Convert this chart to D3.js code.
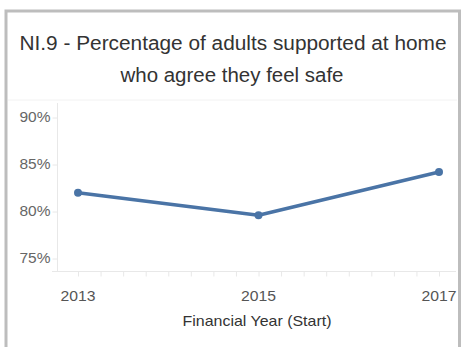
<!DOCTYPE html>
<html>
<head>
<meta charset="utf-8">
<script src="https://cdn.jsdelivr.net/npm/d3@7"></script>
<style>
  body { margin: 0; background: #fff; }
  svg { display: block; font-family: "Liberation Sans Narrow", "Liberation Sans", "DejaVu Sans Condensed", sans-serif; }
</style>
</head>
<body>
<div id="chart"></div>
<script>
  // chart data
  var years = [2013, 2015, 2017];
  var values = [82, 79.6, 84.2];
  var yTicks = [75, 80, 85, 90];
  var titleLines = ['NI.9 - Percentage of adults supported at home', 'who agree they feel safe'];
  var xTitle = 'Financial Year (Start)';

  var width = 461, height = 347;
  var svg = d3.select('#chart').append('svg')
    .attr('width', width)
    .attr('height', height);

  // outer frame
  svg.append('path')
    .attr('d', 'M6,' + height + 'V11H459.5V' + height)
    .attr('fill', 'none')
    .attr('stroke', '#bdbdbd')
    .attr('stroke-width', 3);

  // title
  svg.append('text')
    .attr('x', 233).attr('y', 50)
    .attr('text-anchor', 'middle')
    .attr('textLength', 427).attr('lengthAdjust', 'spacingAndGlyphs')
    .style('font-size', '20px').style('fill', '#333')
    .text(titleLines[0]);
  svg.append('text')
    .attr('x', 232).attr('y', 82)
    .attr('text-anchor', 'middle')
    .attr('textLength', 223).attr('lengthAdjust', 'spacingAndGlyphs')
    .style('font-size', '20px').style('fill', '#333')
    .text(titleLines[1]);

  // separator under title
  svg.append('line')
    .attr('x1', 8).attr('x2', 457).attr('y1', 100).attr('y2', 100)
    .attr('stroke', '#f2f2f2');

  var x = d3.scaleLinear().domain([2013, 2017]).range([78, 439]);
  var y = d3.scaleLinear().domain([75, 90]).range([258.5, 117.5]);

  // y axis
  svg.append('line')
    .attr('x1', 57.5).attr('x2', 57.5).attr('y1', 103).attr('y2', 272)
    .attr('stroke', '#e8e8e8');
  var yAxis = svg.append('g')
    .attr('transform', 'translate(57.5,0)')
    .call(d3.axisLeft(y).tickValues(yTicks).tickSize(5).tickPadding(2)
      .tickFormat(function (d) { return d + '%'; }));
  yAxis.select('.domain').remove();
  yAxis.selectAll('.tick line').attr('stroke', '#e8e8e8');
  yAxis.selectAll('.tick text')
    .attr('textLength', 31).attr('lengthAdjust', 'spacingAndGlyphs')
    .style('font-size', '14px').style('fill', '#666').style('font-family', null);

  // x axis with quarter ticks
  svg.append('line')
    .attr('x1', 52).attr('x2', 456).attr('y1', 271.5).attr('y2', 271.5)
    .attr('stroke', '#e8e8e8');
  var minor = d3.range(0, 17).map(function (i) { return 2013 + i * 0.25; });
  var xMinor = svg.append('g')
    .attr('transform', 'translate(0,271.5)')
    .call(d3.axisBottom(x).tickValues(minor).tickSize(5).tickFormat(''));
  xMinor.select('.domain').remove();
  xMinor.selectAll('.tick line').attr('stroke', '#e8e8e8');

  svg.selectAll('.year-label')
    .data(years)
    .enter()
    .append('text')
    .attr('class', 'year-label')
    .attr('x', function (d) { return x(d); })
    .attr('y', 301)
    .attr('text-anchor', 'middle')
    .attr('textLength', 35).attr('lengthAdjust', 'spacingAndGlyphs')
    .style('font-size', '15px').style('fill', '#555')
    .text(function (d) { return d; });

  svg.append('text')
    .attr('x', 257).attr('y', 326)
    .attr('text-anchor', 'middle')
    .attr('textLength', 149).attr('lengthAdjust', 'spacingAndGlyphs')
    .style('font-size', '15px').style('fill', '#333')
    .text(xTitle);

  // line
  var pts = years.map(function (d, i) { return [d, values[i]]; });
  var line = d3.line()
    .x(function (d) { return x(d[0]); })
    .y(function (d) { return y(d[1]); });

  svg.append('path')
    .datum(pts)
    .attr('d', line)
    .attr('fill', 'none')
    .attr('stroke', '#4a74a6')
    .attr('stroke-width', 3.5)
    .attr('stroke-linejoin', 'round');

  svg.selectAll('.dot')
    .data(pts)
    .enter()
    .append('circle')
    .attr('class', 'dot')
    .attr('cx', function (d) { return x(d[0]); })
    .attr('cy', function (d) { return y(d[1]); })
    .attr('r', 4)
    .attr('fill', '#4a74a6');
</script>
</body>
</html>
